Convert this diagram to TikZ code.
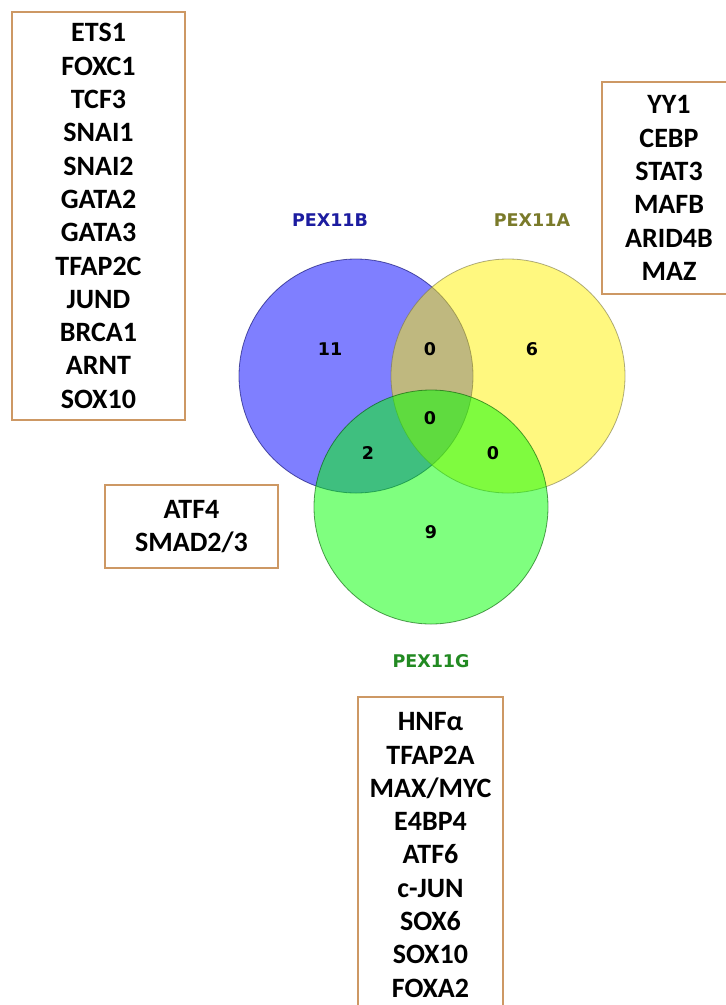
\documentclass[tikz,border=0pt]{standalone}
\usepackage{fontspec}
\setmainfont{Carlito}
\newfontfamily\vennfont{DejaVu Sans}

\definecolor{boxline}{RGB}{205,152,100}
\definecolor{colB}{RGB}{28,28,160}
\definecolor{colA}{RGB}{122,122,42}
\definecolor{colG}{RGB}{34,138,34}

\tikzset{
	tfbox/.style={draw=boxline, line width=1.5pt, fill=white, align=center, inner sep=0pt,
		font=\bfseries\fontsize{28}{33.3}\selectfont},
	venn/.style={circle, minimum size=234pt, inner sep=0pt, line width=0.8pt, fill opacity=0.5, draw opacity=0.6},
	setname/.style={font=\vennfont\bfseries\fontsize{17.5}{20}\selectfont},
	count/.style={font=\vennfont\bfseries\fontsize{17.5}{20}\selectfont},
}

\begin{document}
\begin{tikzpicture}[x=1pt, y=-1pt]
	\useasboundingbox (0,0) rectangle (726,1005);
	\clip (0,0) rectangle (726,1005);
	\fill[white] (0,0) rectangle (726,1005);

	% the three sets
	\node[venn, fill=blue, draw=blue!40!black]     (setB) at (356,376) {};
	\node[venn, fill=yellow, draw=yellow!40!black] (setA) at (508,376) {};
	\node[venn, fill=green, draw=green!35!black]   (setG) at (431,507) {};

	\node[setname, text=colB] (nameB) at (330,220) {PEX11B};
	\node[setname, text=colA] (nameA) at (532,220) {PEX11A};
	\node[setname, text=colG] (nameG) at (431,661) {PEX11G};

	% counts per region
	\def\counts {onlyB/330/349/11, BA/430/349/0, onlyA/532/349/6, BAG/430/418/0,
		BG/368/453/2, AG/493/453/0, onlyG/431/532/9}  % list elements
	\foreach \name/\x/\y/\n in \counts
	{	\node[count] (\name) at (\x,\y) {\n};
	}

	% transcription factors
	\node[tfbox, minimum width=173pt, minimum height=408pt] (tfB) at (98.5,216)
		{ETS1\\FOXC1\\TCF3\\SNAI1\\SNAI2\\GATA2\\GATA3\\TFAP2C\\JUND\\BRCA1\\ARNT\\SOX10};
	\node[tfbox, minimum width=134pt, minimum height=212pt] (tfA) at (669,188)
		{YY1\\CEBP\\STAT3\\MAFB\\ARID4B\\MAZ};
	\node[tfbox, minimum width=173pt, minimum height=83pt] (tfBG) at (191.5,526.5)
		{ATF4\\SMAD2/3};
	\node[tfbox, minimum width=145pt, minimum height=316pt] (tfG) at (430.5,855)
		{HNFα\\TFAP2A\\MAX/MYC\\E4BP4\\ATF6\\c-JUN\\SOX6\\SOX10\\FOXA2};
\end{tikzpicture}
\end{document}
